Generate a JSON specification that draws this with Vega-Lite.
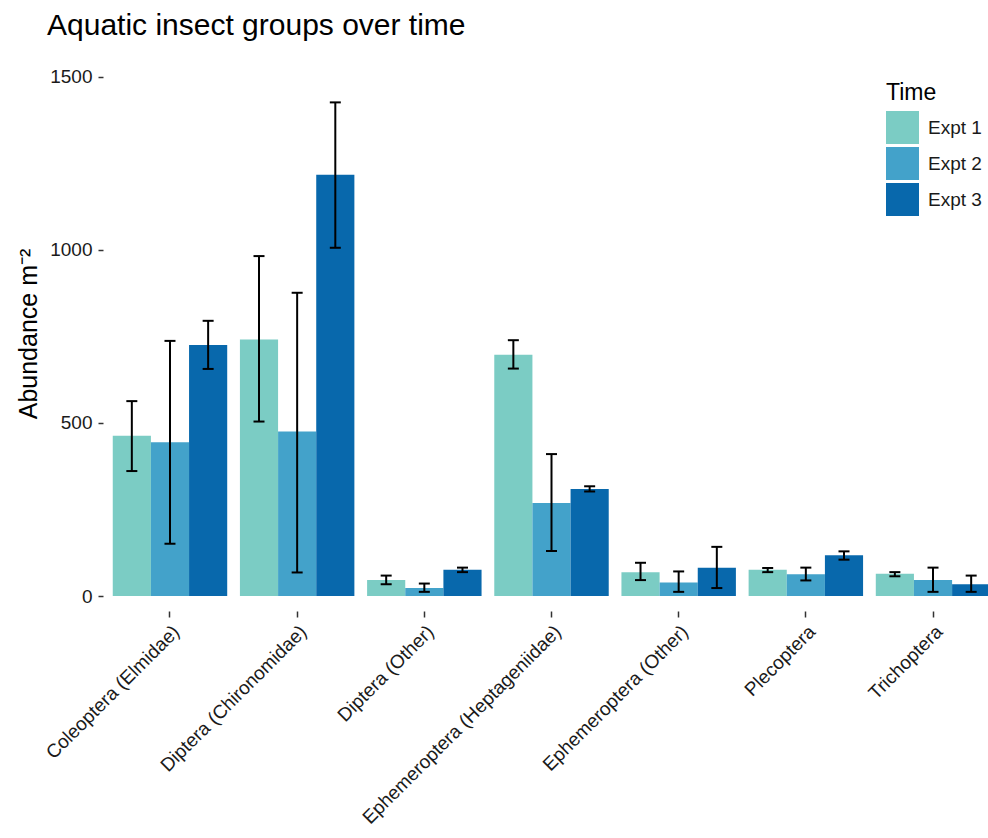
{
  "$schema": "https://vega.github.io/schema/vega-lite/v6.json",
  "autosize": {"type": "none"},
  "padding": {"left": 103, "top": 56, "right": 0, "bottom": 227},
  "width": 885,
  "height": 555,
  "background": "white",
  "config": {"font": "Liberation Sans", "view": {"stroke": null}},
  "title": {
    "text": "Aquatic insect groups over time",
    "anchor": "start",
    "frame": "group",
    "dx": -56,
    "dy": 30,
    "fontSize": 30,
    "fontWeight": "normal",
    "color": "#000000",
    "baseline": "alphabetic",
    "offset": 21
  },
  "data": {
    "values": [
      {"group": "Coleoptera (Elmidae)", "time": "Expt 1", "mean": 463, "lo": 361, "hi": 563},
      {"group": "Coleoptera (Elmidae)", "time": "Expt 2", "mean": 444, "lo": 151, "hi": 737},
      {"group": "Coleoptera (Elmidae)", "time": "Expt 3", "mean": 725, "lo": 656, "hi": 795},
      {"group": "Diptera (Chironomidae)", "time": "Expt 1", "mean": 741, "lo": 504, "hi": 982},
      {"group": "Diptera (Chironomidae)", "time": "Expt 2", "mean": 475, "lo": 68, "hi": 876},
      {"group": "Diptera (Chironomidae)", "time": "Expt 3", "mean": 1217, "lo": 1006, "hi": 1426},
      {"group": "Diptera (Other)", "time": "Expt 1", "mean": 46, "lo": 34, "hi": 59},
      {"group": "Diptera (Other)", "time": "Expt 2", "mean": 23, "lo": 12, "hi": 36},
      {"group": "Diptera (Other)", "time": "Expt 3", "mean": 76, "lo": 69, "hi": 82},
      {"group": "Ephemeroptera (Heptageniidae)", "time": "Expt 1", "mean": 697, "lo": 657, "hi": 739},
      {"group": "Ephemeroptera (Heptageniidae)", "time": "Expt 2", "mean": 269, "lo": 130, "hi": 410},
      {"group": "Ephemeroptera (Heptageniidae)", "time": "Expt 3", "mean": 309, "lo": 302, "hi": 317},
      {"group": "Ephemeroptera (Other)", "time": "Expt 1", "mean": 69, "lo": 46, "hi": 96},
      {"group": "Ephemeroptera (Other)", "time": "Expt 2", "mean": 39, "lo": 12, "hi": 71},
      {"group": "Ephemeroptera (Other)", "time": "Expt 3", "mean": 82, "lo": 23, "hi": 142},
      {"group": "Plecoptera", "time": "Expt 1", "mean": 76, "lo": 69, "hi": 81},
      {"group": "Plecoptera", "time": "Expt 2", "mean": 63, "lo": 45, "hi": 82},
      {"group": "Plecoptera", "time": "Expt 3", "mean": 118, "lo": 105, "hi": 129},
      {"group": "Trichoptera", "time": "Expt 1", "mean": 64, "lo": 57, "hi": 69},
      {"group": "Trichoptera", "time": "Expt 2", "mean": 46, "lo": 12, "hi": 82},
      {"group": "Trichoptera", "time": "Expt 3", "mean": 34, "lo": 12, "hi": 59}
    ]
  },
  "encoding": {
    "x": {
      "field": "group",
      "type": "nominal",
      "sort": null,
      "scale": {"range": [0, 897], "paddingInner": 0.1, "paddingOuter": 0.0767},
      "axis": {
        "title": null,
        "domain": false,
        "labelAngle": -45,
        "labelAlign": "right",
        "labelBaseline": "top",
        "labelFontSize": 19,
        "labelColor": "#1a1a1a",
        "labelPadding": 5,
        "labelLimit": 500,
        "tickSize": 6,
        "tickColor": "#333333",
        "tickWidth": 1.5
      }
    },
    "xOffset": {
      "field": "time",
      "type": "nominal",
      "scale": {"paddingInner": 0, "paddingOuter": 0}
    }
  },
  "layer": [
    {
      "mark": {"type": "bar"},
      "encoding": {
        "y": {
          "field": "mean",
          "type": "quantitative",
          "scale": {"domain": [-43.3, 1560], "nice": false, "zero": false},
          "axis": {
            "title": "Abundance  m⁻²",
            "titleFontSize": 25,
            "titleFontWeight": "normal",
            "titleColor": "#000000",
            "titlePadding": 8,
            "values": [0, 500, 1000, 1500],
            "format": "d",
            "grid": false,
            "domain": false,
            "tickSize": 5,
            "tickColor": "#333333",
            "tickWidth": 1.5,
            "labelFontSize": 19,
            "labelColor": "#1a1a1a",
            "labelPadding": 6
          }
        },
        "y2": {"datum": 0},
        "color": {
          "field": "time",
          "type": "nominal",
          "title": "Time",
          "scale": {"domain": ["Expt 1", "Expt 2", "Expt 3"], "range": ["#7bccc4", "#43a2ca", "#0868ac"]},
          "legend": {
            "orient": "none",
            "legendX": 783,
            "legendY": 26,
            "titleFontSize": 23,
            "titleFontWeight": "normal",
            "titleColor": "#000000",
            "titlePadding": 6,
            "labelFontSize": 19,
            "labelColor": "#1a1a1a",
            "labelOffset": 9,
            "symbolType": "square",
            "symbolSize": 1089,
            "symbolStrokeWidth": 0,
            "symbolOpacity": 1,
            "rowPadding": 3
          }
        }
      }
    },
    {
      "mark": {"type": "rule", "color": "#000000", "strokeWidth": 2},
      "encoding": {
        "y": {"field": "lo", "type": "quantitative", "title": "Abundance  m⁻²"},
        "y2": {"field": "hi"}
      }
    },
    {
      "mark": {"type": "tick", "color": "#000000", "thickness": 2, "size": 11, "opacity": 1},
      "encoding": {
        "y": {"field": "lo", "type": "quantitative", "title": "Abundance  m⁻²"}
      }
    },
    {
      "mark": {"type": "tick", "color": "#000000", "thickness": 2, "size": 11, "opacity": 1},
      "encoding": {
        "y": {"field": "hi", "type": "quantitative", "title": "Abundance  m⁻²"}
      }
    }
  ]
}
